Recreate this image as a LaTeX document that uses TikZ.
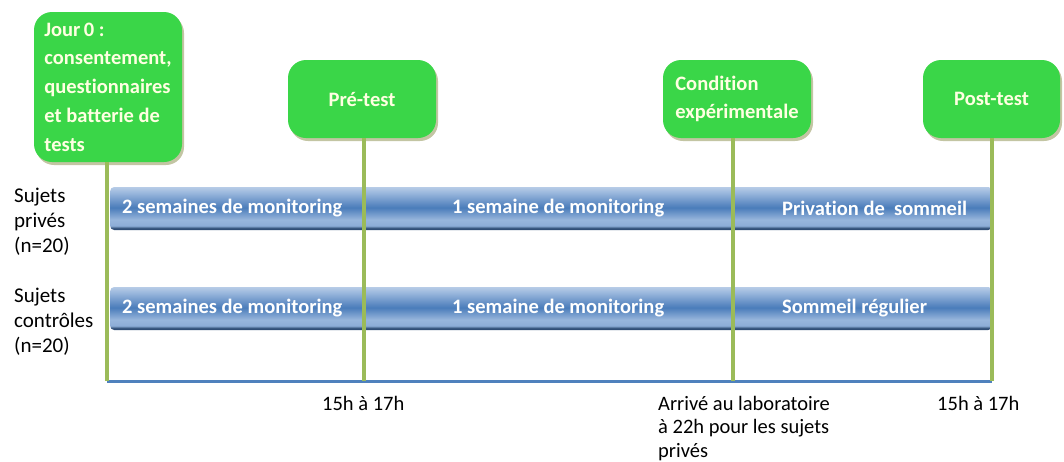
\documentclass[tikz,border=0pt]{standalone}
\usepackage{fontspec}
\setmainfont[Ligatures=NoCommon]{Carlito}
\usetikzlibrary{shadows}
\definecolor{boxgreen}{RGB}{58,214,72}
\definecolor{boxtext}{RGB}{255,255,226}
\definecolor{boxshadow}{RGB}{180,182,140}
\definecolor{tickgreen}{RGB}{155,187,89}
\definecolor{axisblue}{RGB}{79,129,189}
\definecolor{barlight}{RGB}{152,182,220}
\definecolor{barmid}{RGB}{74,124,186}
\definecolor{bardark}{RGB}{48,78,118}
\pgfdeclareverticalshading{barshade}{100bp}{color(0bp)=(bardark); color(25bp)=(bardark); color(27bp)=(bardark); color(30bp)=(barlight!85!barmid); color(37bp)=(barlight); color(51bp)=(barmid); color(68bp)=(barlight); color(75bp)=(barlight!70!white); color(100bp)=(barlight!70!white)}
\tikzset{
  stage/.style={rounded corners=18pt, fill=boxgreen, text=boxtext, align=left,
    font=\bfseries\fontsize{20.5}{28.8}\selectfont, minimum width=148pt, minimum height=78pt, inner sep=6pt,
    drop shadow={shadow xshift=2pt, shadow yshift=-3pt, fill=boxshadow, opacity=.8}},
  bar/.style={shade, shading=barshade, rounded corners=4pt, minimum width=882pt, minimum height=43pt, inner sep=0pt},
  bartext/.style={text=white, font=\bfseries\fontsize{20.5}{24}\selectfont, inner sep=0pt},
  grouplabel/.style={align=left, font=\fontsize{21}{25}\selectfont, inner sep=0pt},
  timenote/.style={align=left, font=\fontsize{20.5}{23.5}\selectfont, inner sep=0pt, anchor=north west},
  timetick/.style={tickgreen, line width=4pt},
  timeaxis/.style={axisblue, line width=3pt},
}
\begin{document}
\begin{tikzpicture}[x=1pt,y=-1pt]
\useasboundingbox (0,0) rectangle (1064,461);
% Time points on the axis
\coordinate (t0) at (107,381);
\coordinate (t1) at (364,381);
\coordinate (t2) at (733,381);
\coordinate (t3) at (992,381);
% Bars of both groups
\node[bar, anchor=west] (bar-prives) at (110,208.5) {};
\node[bar, anchor=west] (bar-controles) at (110,308.5) {};
\node[bartext, anchor=west] (prives-a) at (122,208) {2 semaines de monitoring};
\node[bartext, anchor=west] (prives-b) at (452,208) {1 semaine de monitoring};
\node[bartext, anchor=west] (prives-c) at (782,208) {Privation de~ sommeil};
\node[bartext, anchor=west] (controles-a) at (122,308) {2 semaines de monitoring};
\node[bartext, anchor=west] (controles-b) at (452,308) {1 semaine de monitoring};
\node[bartext, anchor=west] (controles-c) at (782,308) {Sommeil régulier};
% Groups
\node[grouplabel, anchor=west] (prives) at (14,222) {Sujets\\privés\\(n=20)};
\node[grouplabel, anchor=west] (controles) at (14,322) {Sujets\\contrôles\\(n=20)};
% Stages
\node[stage, minimum height=150pt] (jour0) at (108,87) {Jour\,0 :\\consentement,\\questionnaires\\et batterie de\\tests};
\node[stage] (pre-test) at (362,99) {Pré-test};
\node[stage] (condition) at (737,99) {Condition\\expérimentale};
\node[stage, minimum width=137pt] (post-test) at (991.5,99) {Post-test};
% Axis and ticks
\draw[timeaxis] (t0) -- (t3);
\draw[timetick] (jour0.south -| t0) -- (t0);
\draw[timetick] (pre-test.south -| t1) -- (t1);
\draw[timetick] (condition.south -| t2) -- (t2);
\draw[timetick] (post-test.south -| t3) -- (t3);
% Times
\node[timenote] (heure-pre) at (322,396) {15h à 17h};
\node[timenote] (heure-cond) at (658,396) {Arrivé au laboratoire\\à 22h pour les sujets\\privés};
\node[timenote] (heure-post) at (937,396) {15h à 17h};
\end{tikzpicture}
\end{document}
